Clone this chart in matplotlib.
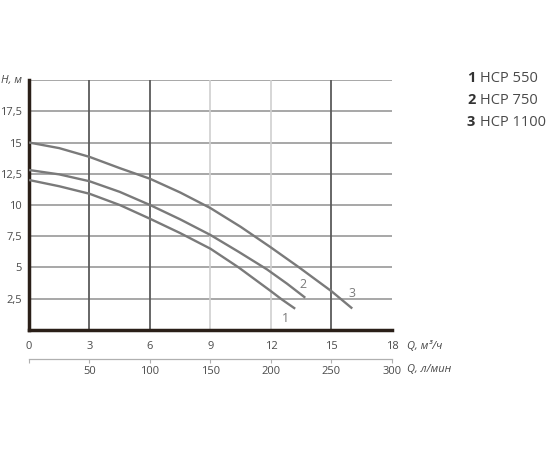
import matplotlib
matplotlib.use('Agg')
import matplotlib.pyplot as plt

plt.rcParams['font.family'] = ['Open Sans', 'DejaVu Sans']

# pump curves, Q in m3/h, H in m
q_550 = [0, 1.5, 3, 4.5, 6, 7.5, 9, 10.4, 12, 12.53, 13.2]
h_550 = [12.0, 11.5, 10.9, 10.0, 8.9, 7.75, 6.5, 5.0, 3.1, 2.45, 1.7]
q_750 = [0, 1.5, 3, 4.5, 6, 7.5, 9, 10.4, 11.8, 12.8, 13.7]
h_750 = [12.8, 12.45, 11.9, 11.05, 10.0, 8.85, 7.6, 6.25, 4.85, 3.7, 2.58]
q_1100 = [0, 1.5, 3, 4.5, 6, 7.5, 9, 10.5, 12, 13.4, 15, 16.03]
h_1100 = [15.0, 14.55, 13.85, 12.95, 12.1, 11.0, 9.75, 8.25, 6.6, 5.0, 3.1, 1.72]

x_ticks = [0, 3, 6, 9, 12, 15, 18]
y_ticks = [2.5, 5, 7.5, 10, 12.5, 15, 17.5]
y_labels = ['2,5', '5', '7,5', '10', '12,5', '15', '17,5']
l_ticks = [0, 50, 100, 150, 200, 250, 300]
legend = [('1', 'HCP 550'), ('2', 'HCP 750'), ('3', 'HCP 1100')]

TXT = '#4a4a4a'
CURVE = '#7a7a7a'

fig = plt.figure(figsize=(5.5, 4.5), dpi=100)
ax = fig.add_axes([0.0527, 0.2667, 0.66, 0.5555])
ax.set_xlim(0, 18)
ax.set_ylim(0, 20)

# grid
for y in y_ticks + [20]:
    ax.axhline(y, color='#a0a0a0', lw=1.3, zorder=1)
for x in [3, 6, 15]:
    ax.axvline(x, color='#5a5a5a', lw=1.3, zorder=1)
for x in [9, 12]:
    ax.axvline(x, color='#cfcfcf', lw=1.2, zorder=1)

for q, h in [(q_550, h_550), (q_750, h_750), (q_1100, h_1100)]:
    ax.plot(q, h, color=CURVE, lw=1.7, solid_capstyle='butt',
            solid_joinstyle='round', zorder=3)

ax.text(q_550[-1] - 0.5, h_550[-1] - 0.8, '1', color=CURVE, fontsize=9,
        ha='center', va='center')
ax.text(q_750[-1] - 0.1, h_750[-1] + 1.05, '2', color=CURVE, fontsize=9,
        ha='center', va='center')
ax.text(q_1100[-1], h_1100[-1] + 1.2, '3', color=CURVE, fontsize=9,
        ha='center', va='center')

for s in ['top', 'right']:
    ax.spines[s].set_visible(False)
for s in ['left', 'bottom']:
    ax.spines[s].set_color('#2a1f18')
    ax.spines[s].set_linewidth(2.5)

ax.set_xticks(x_ticks)
ax.set_xticklabels([str(x) for x in x_ticks])
ax.set_yticks(y_ticks)
ax.set_yticklabels(y_labels)
ax.tick_params(length=0, labelsize=8, labelcolor=TXT)
ax.tick_params(axis='y', pad=5)
ax.tick_params(axis='x', pad=8)

ax.text(-0.019, 1.0, 'H, м', transform=ax.transAxes, ha='right', va='center',
        fontsize=8, style='italic', color=TXT)
ax.text(18.75, -1.3, 'Q, м³/ч', ha='left', va='center', fontsize=8,
        style='italic', color=TXT, clip_on=False)

# second axis, l/min
sec = ax.secondary_xaxis(-0.116, functions=(lambda q: q * 50 / 3,
                                            lambda l: l * 3 / 50))
sec.set_xticks(l_ticks)
sec.set_xticklabels([''] + [str(v) for v in l_ticks[1:]])
sec.spines['bottom'].set_color('#b0b0b0')
sec.spines['bottom'].set_linewidth(0.9)
sec.tick_params(length=3, width=0.8, color='#b0b0b0', labelsize=8,
                labelcolor=TXT, pad=2)
ax.text(18.75, -3.2, 'Q, л/мин', ha='left', va='center', fontsize=8,
        style='italic', color=TXT, clip_on=False)

# legend
for i, (num, name) in enumerate(legend):
    y = 0.826 - i * 0.049
    fig.text(0.849, y, num, fontsize=10.5, fontweight='bold', color='#333333',
             va='center')
    fig.text(0.872, y, name, fontsize=10.5, color=TXT, va='center')

fig.savefig('out.png', dpi=100)
